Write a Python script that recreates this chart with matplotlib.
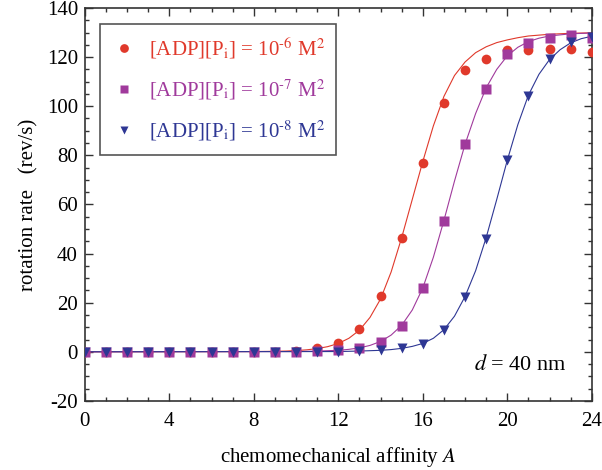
import matplotlib

matplotlib.use("Agg")
import matplotlib.pyplot as plt
from matplotlib.ticker import MultipleLocator

plt.rcParams["font.family"] = ["Liberation Serif", "DejaVu Serif"]
plt.rcParams["mathtext.fontset"] = "stix"
plt.rcParams["axes.unicode_minus"] = False

# measured points (integer affinities 0..24)
affinity = list(range(25))
rate_1e6 = [0, 0, 0, 0, 0, 0, 0, 0, 0, 0, 0.5, 1.5, 3.5, 9.3, 22.7, 46.5, 77, 101.5,
            114.7, 119.4, 122.9, 122.9, 123.2, 123.2, 122.1]
rate_1e7 = [0, 0, 0, 0, 0, 0, 0, 0, 0, 0, 0, 0.2, 0.6, 1.6, 4.1, 10.7, 25.8, 53.3,
            84.5, 107.2, 121.2, 125.9, 127.9, 128.9, 127.7]
rate_1e8 = [0, 0, 0, 0, 0, 0, 0, 0, 0, 0, 0, 0, 0, 0.3, 0.6, 1.4, 3.2, 8.9,
            22.2, 46, 77.9, 104.3, 119.1, 126.2, 128.2]

# fitted curves
fit_x_1e6 = [0, 8, 9, 9.5, 10, 10.5, 11, 11.5, 12, 12.5, 13, 13.5, 14, 14.5, 15, 15.5,
             16, 16.5, 17, 17.5, 18, 18.5, 19, 19.5, 20, 20.5, 21, 22, 23, 24]
fit_y_1e6 = [0, 0.1, 0.2, 0.3, 0.5, 0.8, 1.3, 2.1, 3.4, 5.5, 8.8, 14, 21.5, 32.5, 46.5, 62,
             77.5, 92, 104, 112.5, 118, 121.8, 124.2, 125.9, 127, 127.9, 128.6, 129.3,
             129.7, 129.9]
fit_x_1e7 = [0, 10, 11, 12, 12.5, 13, 13.5, 14, 14.5, 15, 15.5, 16, 16.5, 17, 17.5, 18,
             18.5, 19, 19.5, 20, 20.5, 21, 21.5, 22, 23, 24]
fit_y_1e7 = [0, 0.1, 0.3, 0.6, 1.0, 1.6, 2.6, 4.2, 6.8, 10.8, 17, 26, 38.5, 53.5, 69.5, 84.5,
             97, 107.5, 115, 120.5, 124, 126.3, 127.7, 128.6, 129.5, 129.8]
fit_x_1e8 = [0, 12, 13, 14, 14.5, 15, 15.5, 16, 16.5, 17, 17.5, 18, 18.5, 19, 19.5, 20,
             20.5, 21, 21.5, 22, 22.5, 23, 23.5, 24]
fit_y_1e8 = [0, 0.1, 0.3, 0.6, 0.9, 1.4, 2.2, 3.4, 5.5, 9, 14.5, 22.5, 33, 46.5, 62, 78,
             92.5, 104.5, 113, 119, 123, 125.8, 127.5, 128.5]

labels = [r"[ADP][P$_\mathrm{i}$] = 10$^{\text{-}6}$ M$^2$",
          r"[ADP][P$_\mathrm{i}$] = 10$^{\text{-}7}$ M$^2$",
          r"[ADP][P$_\mathrm{i}$] = 10$^{\text{-}8}$ M$^2$"]

series = [
    (rate_1e6, fit_x_1e6, fit_y_1e6, "#e0392b", "o", 7),
    (rate_1e7, fit_x_1e7, fit_y_1e7, "#a03a9c", "s", 6.5),
    (rate_1e8, fit_x_1e8, fit_y_1e8, "#2e3794", "v", 6.5),
]

fig = plt.figure(figsize=(6.02, 4.70), dpi=100)
ax = fig.add_axes([0.141, 0.147, 0.842, 0.836])

for (pts, fx, fy, col, mk, ms), lab in zip(series, labels):
    ax.plot(fx, fy, color=col, lw=0.8, zorder=2)
    ax.plot(affinity, pts, ls="none", marker=mk, ms=ms, color=col, mec="none",
            label=lab, zorder=3)

ax.set_xlim(0, 24)
ax.set_ylim(-20, 140)
ax.xaxis.set_major_locator(MultipleLocator(4))
ax.xaxis.set_minor_locator(MultipleLocator(1))
ax.yaxis.set_major_locator(MultipleLocator(20))
ax.yaxis.set_minor_locator(MultipleLocator(5))
ax.tick_params(which="both", direction="in", top=True, right=True, labelsize=15,
               color="#333333", width=1)
ax.tick_params(which="major", length=6)
ax.tick_params(which="minor", length=3)
ax.tick_params(axis="x", which="major", pad=8)
ax.tick_params(axis="y", which="major", pad=5)
for sp in ax.spines.values():
    sp.set_color("#333333")
    sp.set_linewidth(1.2)

ax.set_xlabel(r"chemomechanical affinity $\mathit{A}$", fontsize=15, labelpad=10)
ax.set_ylabel("rotation rate   (rev/s)", fontsize=15, labelpad=6)

ax.text(0.951, 0.092, r"$\mathit{d}$ = 40 nm", transform=ax.transAxes, fontsize=16,
        ha="right", va="center")

leg = ax.legend(loc="upper left", bbox_to_anchor=(0.030, 0.959), borderaxespad=0,
                fontsize=15, labelcolor="markerfacecolor", fancybox=False,
                framealpha=1, edgecolor="#555555", handletextpad=0.6, borderpad=0.55,
                labelspacing=0.8, handlelength=1.2, markerscale=0.9)
leg.get_frame().set_linewidth(1.2)

fig.savefig("out.png", dpi=100)
